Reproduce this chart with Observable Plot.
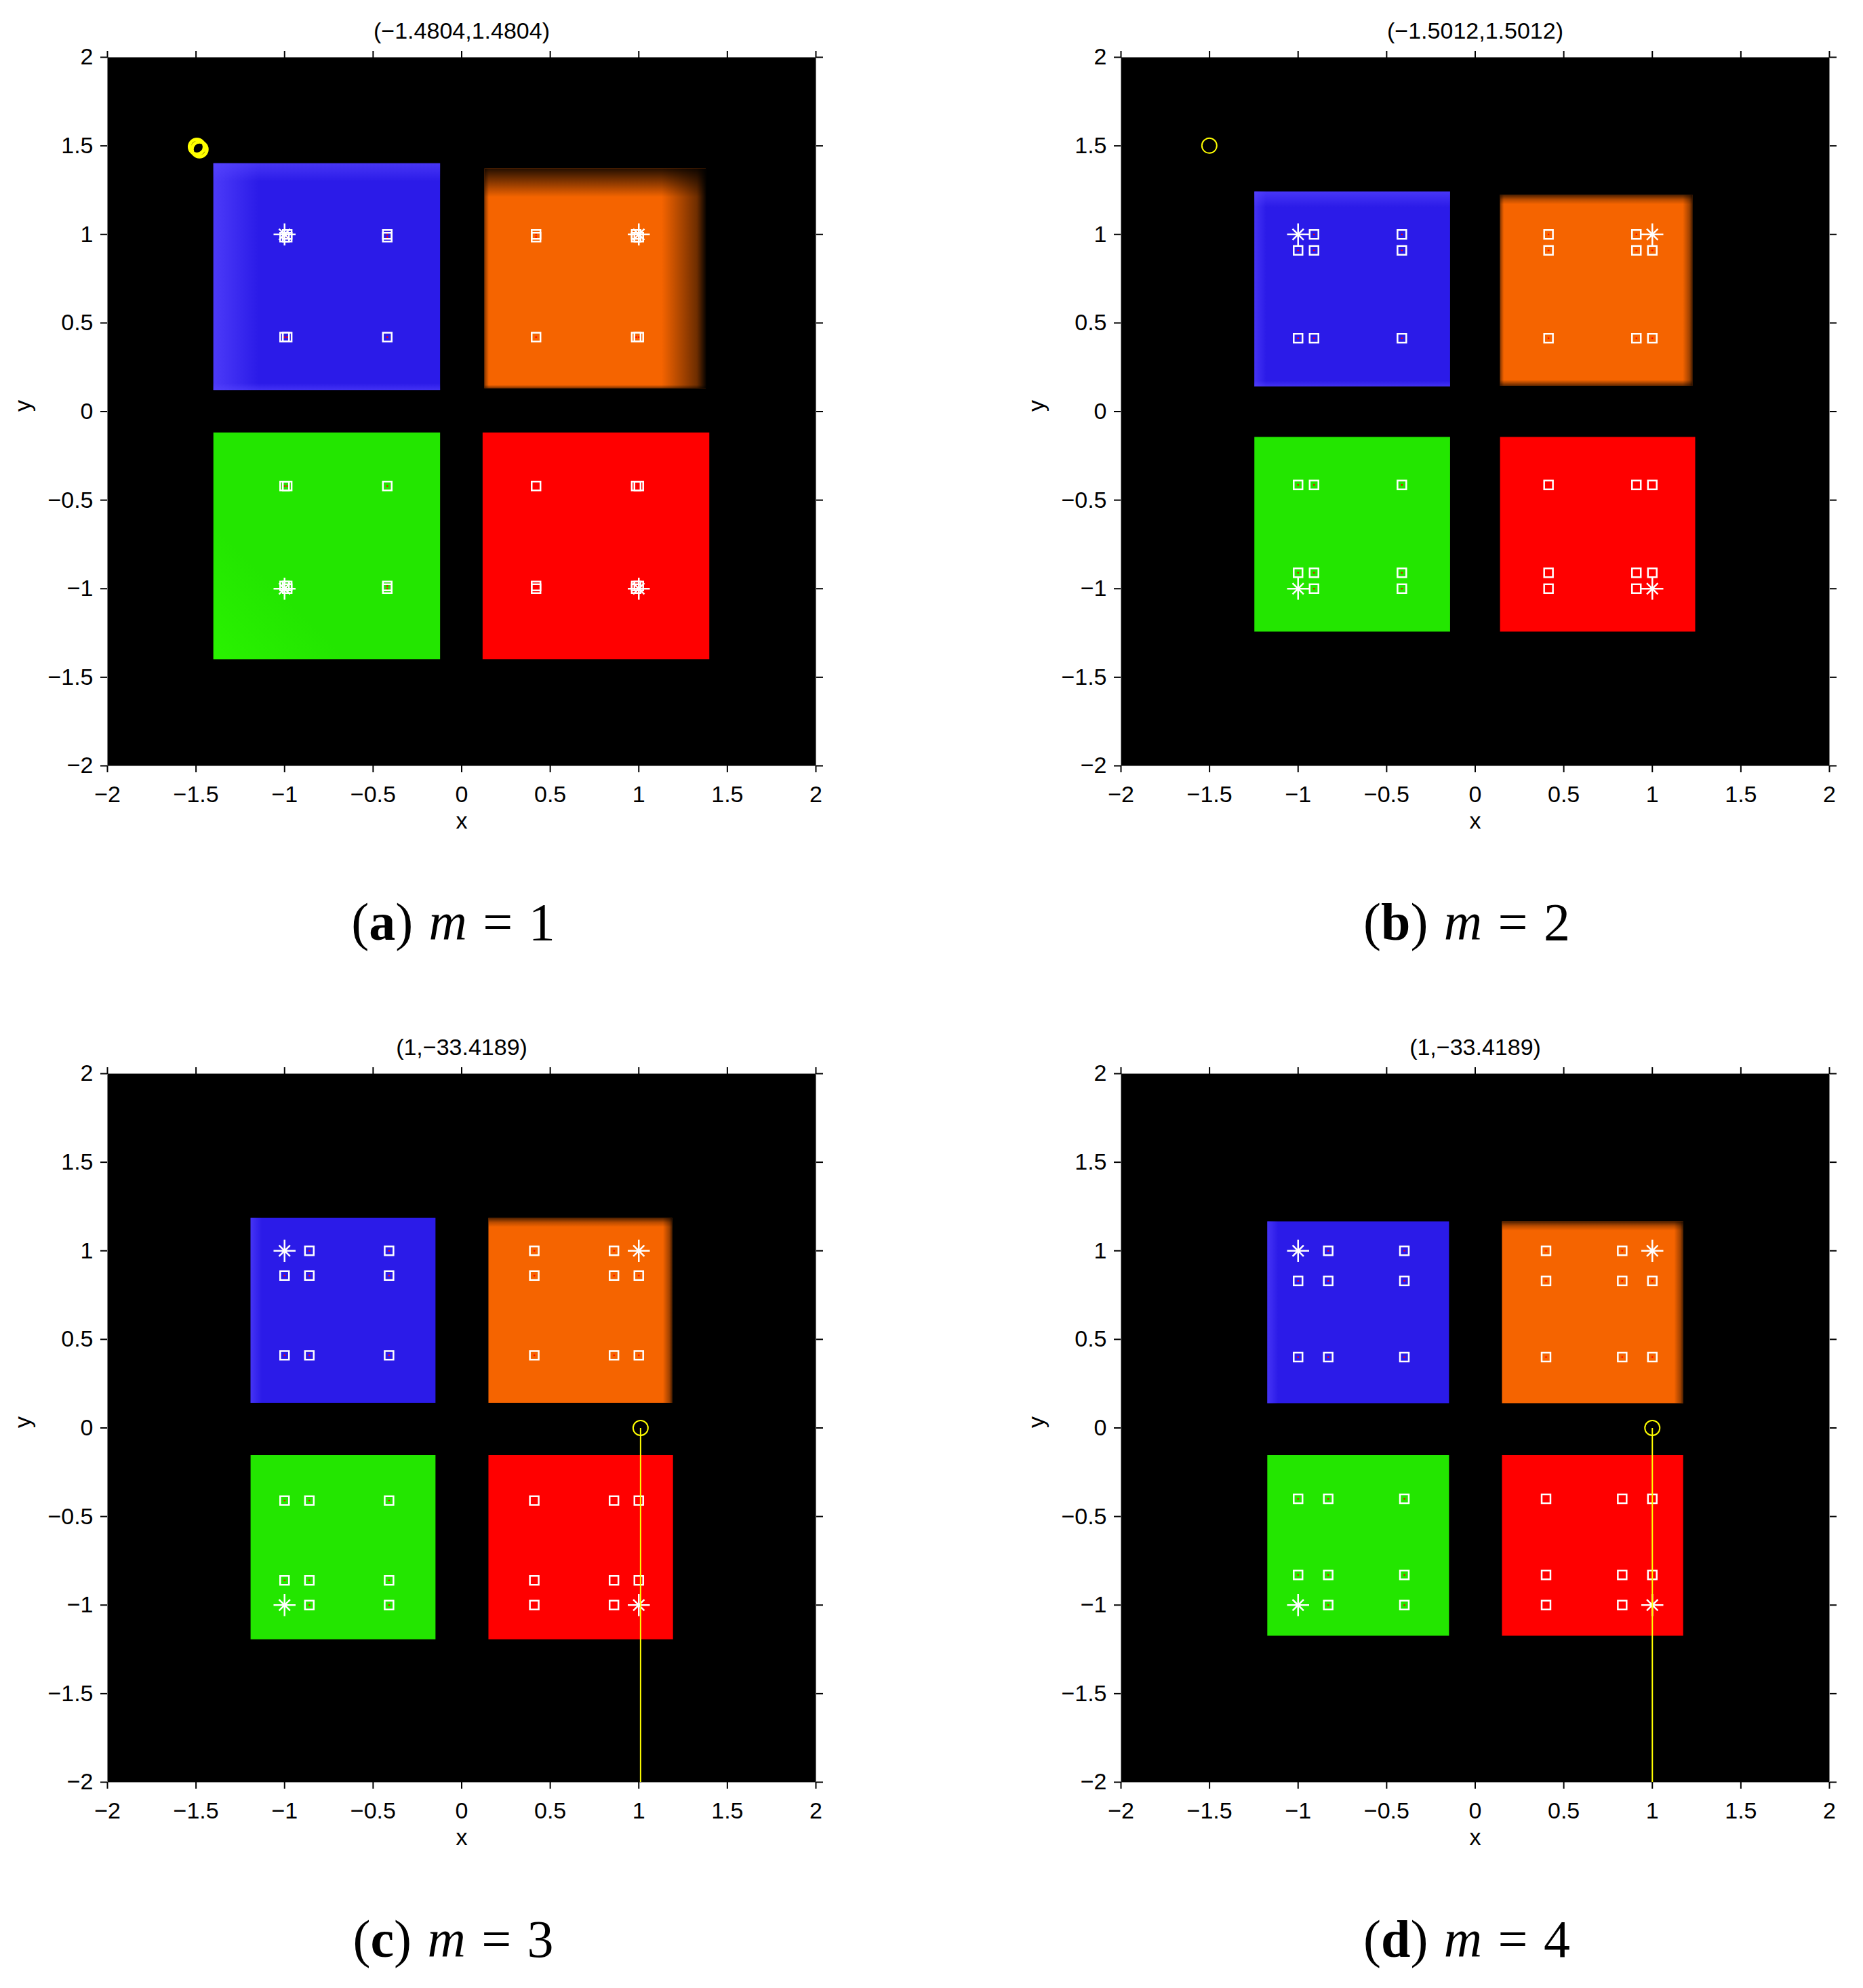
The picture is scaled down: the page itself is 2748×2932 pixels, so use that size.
<!DOCTYPE html>
<html>
<head>
<meta charset="utf-8">
<script src="https://cdn.jsdelivr.net/npm/d3@7"></script>
<script src="https://cdn.jsdelivr.net/npm/@observablehq/plot@0.6"></script>
<style>
html, body { margin: 0; padding: 0; background: #fff; }
#page { position: relative; width: 2748px; height: 2932px; overflow: hidden; background: #fff; }
.panel { position: absolute; }
.caption { position: absolute; width: 800px; text-align: center; font-family: "Liberation Serif", "DejaVu Serif", serif; font-size: 78px; line-height: 78px; color: #000; white-space: pre; }
.caption .sp { display: inline-block; width: 0.3em; }
</style>
</head>
<body>
<div id="page"></div>
<script>
// ---------------- data ----------------
const mValues = [1, 2, 3, 4];
const captionLetters = ["a", "b", "c", "d"];
const titles = ["(−1.4804,1.4804)", "(−1.5012,1.5012)", "(1,−33.4189)", "(1,−33.4189)"];
const tickValues = [-2, -1.5, -1, -0.5, 0, 0.5, 1, 1.5, 2];

// quadrant order: blue (top-left), orange (top-right), green (bottom-left), red (bottom-right)
const quadColors = ["#2b1be8", "#f56400", "#23e600", "#ff0000"];
const quadSigns = [[-1, 1], [1, 1], [-1, -1], [1, -1]];

// rectangle extents [x1, x2, y1, y2] per quadrant, for each panel
const rectsA = [[-1.40, -0.12, 0.12, 1.40], [0.13, 1.38, 0.13, 1.37], [-1.40, -0.12, -1.40, -0.12], [0.12, 1.40, -1.40, -0.12]];
const rectsB = [[-1.245, -0.14, 0.14, 1.24], [0.142, 1.228, 0.144, 1.222], [-1.245, -0.14, -1.244, -0.145], [0.142, 1.244, -1.244, -0.145]];
const rectsC = [[-1.19, -0.146, 0.14, 1.185], [0.153, 1.19, 0.14, 1.185], [-1.19, -0.146, -1.195, -0.155], [0.153, 1.195, -1.195, -0.155]];
const rectsD = [[-1.172, -0.146, 0.138, 1.164], [0.153, 1.176, 0.138, 1.164], [-1.172, -0.146, -1.175, -0.155], [0.153, 1.176, -1.175, -0.155]];
const rectsByPanel = [rectsA, rectsB, rectsC, rectsD];

// marker grid coordinates (|x| and |y| values) in each quadrant; the first is the asterisk corner
const markerGrids = [[1, 0.985, 0.42], [1, 0.91, 0.414], [1, 0.86, 0.41], [1, 0.83, 0.40]];

// yellow circles and trailing segment
const circlesA = [[-1.495, 1.495], [-1.4804, 1.4804]];
const circlesB = [[-1.5012, 1.5012]];
const circlesC = [[1.01, 0]];
const circlesD = [[1.0, 0]];
const circlesByPanel = [circlesA, circlesB, circlesC, circlesD];
const trailsByPanel = [[], [], [[1.01, 0, 1.01, -33.4189]], [[1.0, 0, 1.0, -33.4189]]];
const circleStroke = [5, 2, 2, 2];

// shading overlays: [quadrant index, gradient id]
const overlaysByPanel = [
  [[0, "blueLeft"], [0, "blueTop"], [1, "orTopA"], [1, "orRightA"], [1, "orLeft"], [2, "greenLeft"]],
  [[0, "blueLeftSoft"], [0, "blueTop"], [1, "orTop"], [1, "orRight"], [1, "orLeft"], [1, "orBottom"]],
  [[0, "blueLeftSoft"], [1, "orTop"], [1, "orRight"]],
  [[0, "blueLeftSoft"], [1, "orTop"], [1, "orRight"]]
];

const defsHTML = `
<linearGradient id="blueLeft" x1="0" x2="1" y1="0" y2="0"><stop offset="0" stop-color="#5a48ff" stop-opacity="0.7"/><stop offset="0.2" stop-color="#5a48ff" stop-opacity="0"/></linearGradient>
<linearGradient id="blueLeftSoft" x1="0" x2="1" y1="0" y2="0"><stop offset="0" stop-color="#5a48ff" stop-opacity="0.55"/><stop offset="0.06" stop-color="#5a48ff" stop-opacity="0"/></linearGradient>
<linearGradient id="blueTop" x1="0" x2="0" y1="0" y2="1"><stop offset="0" stop-color="#5a48ff" stop-opacity="0.6"/><stop offset="0.08" stop-color="#5a48ff" stop-opacity="0"/><stop offset="0.97" stop-color="#5a48ff" stop-opacity="0"/><stop offset="1" stop-color="#5a48ff" stop-opacity="0.5"/></linearGradient>
<linearGradient id="orTopA" x1="0" x2="0" y1="0" y2="1"><stop offset="0" stop-color="#000" stop-opacity="0.85"/><stop offset="0.13" stop-color="#000" stop-opacity="0"/><stop offset="0.985" stop-color="#000" stop-opacity="0"/><stop offset="1" stop-color="#000" stop-opacity="0.5"/></linearGradient>
<linearGradient id="orRightA" x1="0" x2="1" y1="0" y2="0"><stop offset="0.8" stop-color="#000" stop-opacity="0"/><stop offset="0.96" stop-color="#000" stop-opacity="0.55"/><stop offset="1" stop-color="#000" stop-opacity="0.95"/></linearGradient>
<linearGradient id="orLeft" x1="0" x2="1" y1="0" y2="0"><stop offset="0" stop-color="#000" stop-opacity="0.45"/><stop offset="0.02" stop-color="#000" stop-opacity="0"/></linearGradient>
<linearGradient id="orTop" x1="0" x2="0" y1="0" y2="1"><stop offset="0" stop-color="#000" stop-opacity="0.7"/><stop offset="0.025" stop-color="#000" stop-opacity="0.25"/><stop offset="0.05" stop-color="#000" stop-opacity="0"/></linearGradient>
<linearGradient id="orBottom" x1="0" x2="0" y1="0" y2="1"><stop offset="0.97" stop-color="#000" stop-opacity="0"/><stop offset="1" stop-color="#000" stop-opacity="0.6"/></linearGradient>
<linearGradient id="orRight" x1="0" x2="1" y1="0" y2="0"><stop offset="0.95" stop-color="#000" stop-opacity="0"/><stop offset="0.985" stop-color="#000" stop-opacity="0.35"/><stop offset="1" stop-color="#000" stop-opacity="0.7"/></linearGradient>
<linearGradient id="greenLeft" x1="0" x2="1" y1="1" y2="0"><stop offset="0" stop-color="#30ff00" stop-opacity="0.5"/><stop offset="0.3" stop-color="#30ff00" stop-opacity="0"/></linearGradient>
`;

// ---------------- layout ----------------
const panelW = 1252, panelH = 1262;
const margins = {left: 158, right: 49, top: 84, bottom: 133};
const panelOffsets = [[0, 0], [1495, 0], [0, 1499], [1495, 1499]];
const captionBaselines = [1386, 1386, 2886, 2886];

function buildMarkers(grid) {
  const squares = [], stars = [];
  quadSigns.forEach(([sx, sy]) => {
    grid.forEach(xv => grid.forEach(yv => {
      const p = {x: sx * xv, y: sy * yv};
      if (xv === grid[0] && yv === grid[0]) stars.push(p); else squares.push(p);
    }));
  });
  return {squares, stars};
}

const page = document.getElementById("page");

mValues.forEach((m, i) => {
  const rects = rectsByPanel[i].map((r, q) => ({x1: r[0], x2: r[1], y1: r[2], y2: r[3], color: quadColors[q]}));
  const overlays = overlaysByPanel[i].map(([q, g]) => ({...rects[q], fill: `url(#${g})`}));
  const {squares, stars} = buildMarkers(markerGrids[i]);
  const circles = circlesByPanel[i].map(([x, y]) => ({x, y}));
  const trails = trailsByPanel[i].map(([x1, y1, x2, y2]) => ({x1, y1, x2, y2}));

  const svg = Plot.plot({
    width: panelW,
    height: panelH,
    marginLeft: margins.left,
    marginRight: margins.right,
    marginTop: margins.top,
    marginBottom: margins.bottom,
    x: {domain: [-2, 2]},
    y: {domain: [-2, 2]},
    style: {fontFamily: "'Liberation Sans', Arial, sans-serif", fontSize: "34px", color: "#000", background: "transparent", overflow: "visible"},
    marks: [
      Plot.frame({fill: "#000"}),
      Plot.rect(rects, {x1: "x1", x2: "x2", y1: "y1", y2: "y2", fill: "color"}),
      ...overlays.map(o => Plot.rect([o], {x1: "x1", x2: "x2", y1: "y1", y2: "y2", fill: o.fill})),
      Plot.dot(squares, {x: "x", y: "y", r: 1.3, fill: "#ff0000", stroke: null}),
      Plot.dot(squares, {x: "x", y: "y", symbol: "square", r: 7.3, stroke: "#fff", strokeWidth: 2.5, fill: "none"}),
      Plot.dot(stars, {x: "x", y: "y", symbol: "plus", r: 10.5, stroke: "#fff", strokeWidth: 2.5}),
      Plot.dot(stars, {x: "x", y: "y", symbol: "times", r: 7.5, stroke: "#fff", strokeWidth: 2.5}),
      Plot.link(trails, {x1: "x1", y1: "y1", x2: "x2", y2: "y2", stroke: "#ffff00", strokeWidth: 2, clip: true}),
      Plot.dot(circles, {x: "x", y: "y", r: 11, stroke: "#ffff00", strokeWidth: circleStroke[i], fill: "none"}),
      Plot.axisX(tickValues, {anchor: "bottom", tickSize: 10, tickPadding: 19, strokeWidth: 2, tickFormat: d3.format(""), label: null}),
      Plot.axisX(tickValues, {anchor: "top", tickSize: 10, strokeWidth: 2, tickFormat: () => "", label: null}),
      Plot.axisY(tickValues, {anchor: "left", tickSize: 10, tickPadding: 11, strokeWidth: 2, tickFormat: d3.format(""), label: null}),
      Plot.axisY(tickValues, {anchor: "right", tickSize: 10, strokeWidth: 2, tickFormat: () => "", label: null}),
      Plot.text([titles[i]], {text: d => d, frameAnchor: "top", dy: -38, fontSize: 34, fill: "#000", lineAnchor: "middle"}),
      Plot.text(["x"], {text: d => d, frameAnchor: "bottom", dy: 82, fontSize: 34, fill: "#000", lineAnchor: "middle"}),
      Plot.text(["y"], {text: d => d, frameAnchor: "left", dx: -124, rotate: -90, fontSize: 34, fill: "#000", lineAnchor: "middle"})
    ]
  });
  d3.select(svg).insert("defs", ":first-child").html(defsHTML);

  const wrap = document.createElement("div");
  wrap.className = "panel";
  wrap.style.left = panelOffsets[i][0] + "px";
  wrap.style.top = panelOffsets[i][1] + "px";
  wrap.appendChild(svg);
  page.appendChild(wrap);

  const plotCenterX = panelOffsets[i][0] + (margins.left + (panelW - margins.right)) / 2;
  const cap = document.createElement("div");
  cap.className = "caption";
  cap.style.left = (plotCenterX - 12 - 400) + "px";
  cap.style.top = (captionBaselines[i] - 0.8375 * 78) + "px";
  cap.innerHTML = `(<b>${captionLetters[i]}</b>)<span class="sp"></span><i>m</i><span class="sp"></span>=<span class="sp"></span>${m}`;
  page.appendChild(cap);
});
</script>
</body>
</html>
